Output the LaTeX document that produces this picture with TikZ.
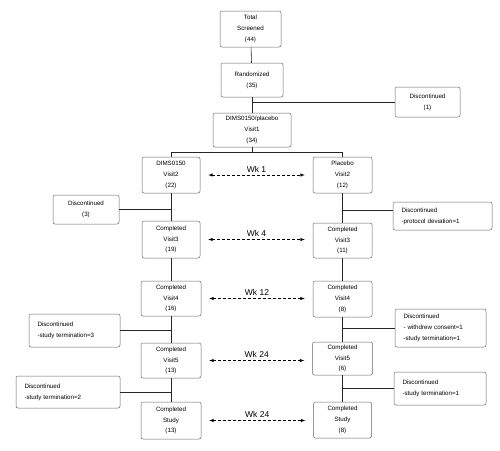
\documentclass[tikz,border=0pt]{standalone}
\usepackage{fontspec}
\setmainfont{Liberation Sans}
\tikzset{>=latex}
\tikzset{
  stage/.style={draw=black!60, line width=0.5pt, rounded corners=2pt,
    align=center, inner sep=2pt, font=\fontsize{6.2}{10.8}\selectfont},
  wh/.style 2 args={minimum width=#1, minimum height=#2},
  dropout/.style={stage, align=left, inner xsep=8.5pt},
  link/.style={line width=0.6pt, black!85},
  week/.style={<->, densely dashed, line width=0.5pt, shorten <=8pt, shorten >=8pt},
  weeklabel/.style={above=1.5pt, inner sep=1pt, font=\fontsize{8.5}{10}\selectfont},
}

\begin{document}
\begin{tikzpicture}[x=1pt,y=-1pt]
  \useasboundingbox (0,0) rectangle (500,450);
  % main flow
  \node[stage, wh={61pt}{36pt}] (total)  at (250.5,29) {Total\\Screened\\(44)};
  \node[stage, wh={62pt}{34pt}] (rand)   at (252,80)   {Randomized\\(35)};
  \node[stage, wh={78pt}{34pt}] (visit1) at (252,130)  {DIMS0150/placebo\\Visit1\\(34)};
  \node[dropout, align=center, text width=48pt, minimum height=30pt] (disc1) at (427.5,102) {Discontinued\\(1)};
  % DIMS0150 arm
  \node[stage, wh={58pt}{36pt}] (dimsV2)  at (171,175)   {DIMS0150\\Visit2\\(22)};
  \node[stage, wh={58pt}{37pt}] (dimsV3)  at (171,239.5) {Completed\\Visit3\\(19)};
  \node[stage, wh={60pt}{35pt}] (dimsV4)  at (171,298.5) {Completed\\Visit4\\(16)};
  \node[stage, wh={60pt}{35pt}] (dimsV5)  at (171,360.5) {Completed\\Visit5\\(13)};
  \node[stage, wh={60pt}{37pt}] (dimsEnd) at (171,420.5) {Completed\\Study\\(13)};
  \node[dropout, align=center, text width=49pt, minimum height=29pt] (disc3) at (86,209.5) {Discontinued\\(3)};
  \node[dropout, text width=74pt, minimum height=33pt] (discST3) at (74.5,330.5) {Discontinued\\-study termination=3};
  \node[dropout, text width=87pt, minimum height=32pt] (discST2) at (68,392) {Discontinued\\-study termination=2};
  % placebo arm
  \node[stage, wh={59pt}{36pt}] (placV2)  at (342.5,175)   {Placebo\\Visit2\\(12)};
  \node[stage, wh={59pt}{35pt}] (placV3)  at (342.5,240.5) {Completed\\Visit3\\(11)};
  \node[stage, wh={59pt}{36pt}] (placV4)  at (342.5,299)   {Completed\\Visit4\\(8)};
  \node[stage, wh={60pt}{33pt}] (placV5)  at (342.5,358.5) {Completed\\Visit5\\(6)};
  \node[stage, wh={58pt}{36pt}] (placEnd) at (342.5,420)   {Completed\\Study\\(8)};
  \node[dropout, text width=82pt, minimum height=28pt] (discPD) at (442.5,216) {Discontinued\\-protocol deviation=1};
  \node[dropout, text width=74pt, minimum height=38pt] (discWC) at (440.5,328) {Discontinued\\- withdrew consent=1\\-study termination=1};
  \node[dropout, text width=75pt, minimum height=33pt] (discST1) at (440,388.5) {Discontinued\\-study termination=1};

  \draw[link] (total) -- (rand);
  \draw[link] (rand) -- (visit1);
  \draw[link] (rand.south |- disc1.west) -- (disc1.west);
  \draw[link] (visit1.south) -- ++(0,5) coordinate (split);
  \draw[link] (dimsV2.north) |- (split) -| (placV2.north);
  \foreach \a/\b in {dimsV2/dimsV3, dimsV3/dimsV4, dimsV4/dimsV5, dimsV5/dimsEnd,
                     placV2/placV3, placV3/placV4, placV4/placV5, placV5/placEnd}
    \draw[link] (\a) -- (\b);
  % drop-outs
  \draw[link] (dimsV2.south |- disc3.east) -- (disc3.east);
  \draw[link] (dimsV4.south |- discST3.east) -- (discST3.east);
  \draw[link] (dimsV5.south |- discST2.east) -- (discST2.east);
  \draw[link] ([yshift=6pt]discPD.west -| placV2.south) -- ([yshift=6pt]discPD.west);
  \draw[link] (placV4.south |- discWC.west) -- (discWC.west);
  \draw[link] (placV5.south |- discST1.west) -- (discST1.west);
  % visit weeks
  \foreach \l/\r/\w in {dimsV2/placV2/1, dimsV3/placV3/4, dimsV4/placV4/12,
                        dimsV5/placV5/24, dimsEnd/placEnd/24}
    \draw[week] (\l.east) -- (\l.east -| \r.west) node[midway, weeklabel] {Wk \w};
\end{tikzpicture}
\end{document}
